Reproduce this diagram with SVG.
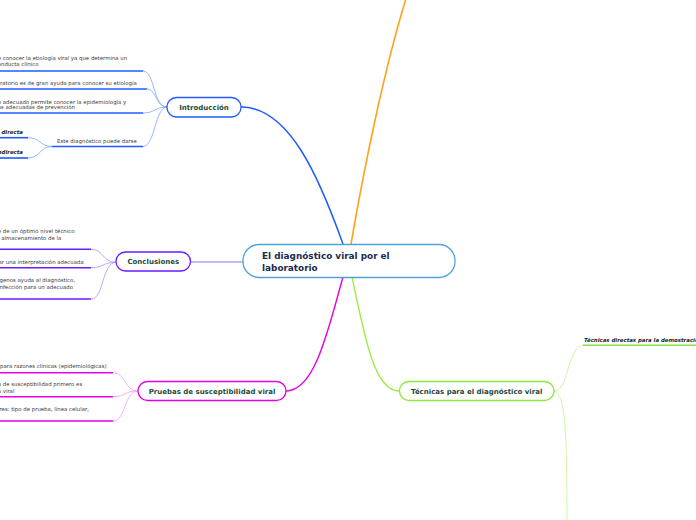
<svg xmlns="http://www.w3.org/2000/svg" width="696" height="520" viewBox="0 0 696 520">
<style>
.t{font-family:"DejaVu Sans",Verdana,sans-serif;font-size:5.4px;fill:#3a3a3a}
.bi{font-family:"DejaVu Sans",Verdana,sans-serif;font-size:5.4px;font-weight:bold;font-style:italic;fill:#222}
.nl{font-family:"DejaVu Sans",Verdana,sans-serif;font-size:7px;font-weight:bold;fill:#1d4a40;text-anchor:middle}
.ct{font-family:"DejaVu Sans",Verdana,sans-serif;font-size:8.9px;font-weight:bold;fill:#1b2a4e}
.box{fill:#fff;stroke-width:1.3}
.c{fill:none}
</style>
<g id="connectors" fill="none">
  <path d="M351,244 C362,180 385,60 412,-20" stroke="#ffa31a" stroke-width="1.6"/>
  <path d="M241,107 C290,107 320,180 343,244" stroke="#1f5cff" stroke-width="1.5"/>
  <path d="M191,262 L243,262" stroke="#9a6cff" stroke-width="1.2"/>
  <path d="M286,391 C315,391 328,330 343,277" stroke="#e600e6" stroke-width="1.4"/>
  <path d="M352,277 C365,340 375,391 399,391" stroke="#99ee44" stroke-width="1.4"/>
  <g stroke="#7fa6ff" stroke-width="0.8">
    <path d="M143,71 C155,71 153,107 167,107"/>
    <path d="M147,89 C157,89 155,107 167,107"/>
    <path d="M143,113 C155,113 155,107 167,107"/>
    <path d="M143,146.5 C155,146.5 155,107 167,107"/>
    <path d="M28,137.7 C40,137.7 40,146.5 52,146.5"/>
    <path d="M28,158 C40,158 40,146.5 52,146.5"/>
  </g>
  <g stroke="#1f5cff" stroke-width="1.6">
    <path d="M0,71 H143"/>
    <path d="M0,89 H147"/>
    <path d="M0,113 H143"/>
    <path d="M52,146.5 H143"/>
    <path d="M0,137.7 H28"/>
    <path d="M0,158 H28"/>
  </g>
  <g stroke="#b58fff" stroke-width="0.8">
    <path d="M91,249.3 C104,249.3 102,262.3 116,262.3"/>
    <path d="M91,267.7 C104,267.7 102,262.3 116,262.3"/>
    <path d="M91,299 C104,299 102,262.3 116,262.3"/>
  </g>
  <g stroke="#6a1bff" stroke-width="1.6">
    <path d="M0,249.3 H91"/>
    <path d="M0,267.7 H91"/>
    <path d="M0,299 H91"/>
  </g>
  <g stroke="#f29af2" stroke-width="0.8">
    <path d="M113,372.7 C126,372.7 124,391 138,391"/>
    <path d="M113,396.7 C126,396.7 124,391 138,391"/>
    <path d="M113,421 C126,421 124,391 138,391"/>
  </g>
  <g stroke="#e600e6" stroke-width="1.6">
    <path d="M0,372.7 H113"/>
    <path d="M0,396.7 H113"/>
    <path d="M0,421 H113"/>
  </g>
  <g stroke="#c8f5a0" stroke-width="0.9">
    <path d="M554,391 C570,391 566,345 585,345"/>
    <path d="M554,391 C565,393 567,430 567,520"/>
  </g>
  <path d="M583,345.3 H696" stroke="#88e03a" stroke-width="1.6"/>
</g>
<g id="central">
  <rect class="box" x="243" y="244.5" width="212" height="33" rx="16" stroke="#4aa3df"/>
  <text class="ct" x="262" y="259">El diagnóstico viral por el</text>
  <text class="ct" x="262" y="270.5">laboratorio</text>
</g>
<g id="introduccion">
  <rect class="box" x="167" y="97.5" width="74" height="19.5" rx="9.5" stroke="#1f5cff"/>
  <text class="nl" x="204" y="109.8">Introducción</text>
</g>
<g id="intro-1">
  <text class="t" x="-2.3" y="59.8">e conocer la etiología viral ya que determina un</text>
  <text class="t" x="-2.3" y="66.3">onducta clínico</text>
</g>
<g id="intro-2">
  <text class="t" x="0" y="85.2">ratorio es de gran ayuda para conocer su etiología</text>
</g>
<g id="intro-3">
  <text class="t" x="-2.3" y="103.6">o adecuado permite conocer la epidemiología y</text>
  <text class="t" x="-2.3" y="109.2">as adecuadas de prevención</text>
</g>
<g id="intro-4">
  <text class="t" x="57" y="142.6">Este diagnóstico puede darse</text>
</g>
<g id="intro-4a">
  <text class="bi" x="1.5" y="133.5">directa</text>
</g>
<g id="intro-4b">
  <text class="bi" x="-2.3" y="153.6">ndirecta</text>
</g>
<g id="conclusiones">
  <rect class="box" x="116" y="252" width="74.5" height="19" rx="9.5" stroke="#6a1bff"/>
  <text class="nl" x="153.3" y="264.3">Conclusiones</text>
</g>
<g id="concl-1">
  <text class="t" x="-2.3" y="233">e de un óptimo nivel técnico</text>
  <text class="t" x="-2.3" y="239.5">· almacenamiento de la</text>
</g>
<g id="concl-2">
  <text class="t" x="-1.5" y="264.2">ar una interpretación adecuada</text>
</g>
<g id="concl-3">
  <text class="t" x="-0.5" y="282">genos ayuda al diagnóstico,</text>
  <text class="t" x="-0.5" y="288.5">nfección para un adecuado</text>
</g>
<g id="pruebas">
  <rect class="box" x="138" y="381.5" width="148" height="19" rx="9.5" stroke="#e600e6"/>
  <text class="nl" x="212" y="393.8">Pruebas de susceptibilidad viral</text>
</g>
<g id="pruebas-1">
  <text class="t" x="0" y="367.6">para razones clínicas (epidemiológicas)</text>
</g>
<g id="pruebas-2">
  <text class="t" x="-2.3" y="386">a de susceptibilidad primero es</text>
  <text class="t" x="-2.3" y="392.5">o viral</text>
</g>
<g id="pruebas-3">
  <text class="t" x="-0.5" y="411.2">res: tipo de prueba, línea celular,</text>
</g>
<g id="tecnicas">
  <rect class="box" x="399.5" y="381.5" width="154.5" height="19" rx="9.5" stroke="#8be83c"/>
  <text class="nl" x="476.7" y="393.8">Técnicas para el diagnóstico viral</text>
</g>
<g id="tecnicas-1">
  <text class="bi" x="584" y="341.5">Técnicas directas para la demostración</text>
</g>
</svg>
